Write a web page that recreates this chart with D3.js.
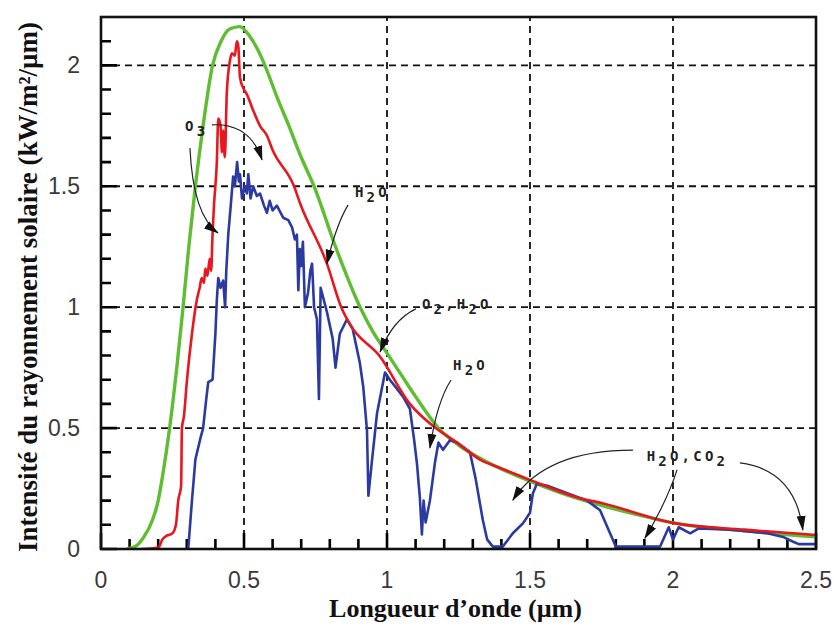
<!DOCTYPE html>
<html>
<head>
<meta charset="utf-8">
<script src="https://cdn.jsdelivr.net/npm/d3@7"></script>
<style>
  html, body { margin: 0; padding: 0; background: #fff; }
  svg { display: block; }
</style>
</head>
<body>
<svg id="chart" width="836" height="628"></svg>
<script>
// ---------------- DATA ----------------
const xTicks = [0, 0.5, 1, 1.5, 2, 2.5];
const yTicks = [0, 0.5, 1, 1.5, 2];
const xTickLabels = ["0", "0.5", "1", "1.5", "2", "2.5"];
const yTickLabels = ["0", "0.5", "1", "1.5", "2"];
const xTitle = "Longueur d\u2019onde (\u00b5m)";
const yTitle = "Intensit\u00e9 du rayonnement solaire (kW/m\u00b2/\u00b5m)";

// green : black-body curve  [wavelength µm, kW/m²/µm]
const greenSeries = [
  [0.09,0],[0.12,0.01],[0.15,0.05],[0.18,0.12],[0.2,0.2],[0.215,0.3],[0.24,0.5],
  [0.265,0.75],[0.287,1.0],[0.307,1.25],[0.33,1.5],[0.357,1.75],[0.39,2.0],
  [0.42,2.1],[0.45,2.15],[0.485,2.16],[0.52,2.12],[0.55,2.06],[0.573,2.0],
  [0.615,1.87],[0.657,1.75],[0.7,1.62],[0.745,1.5],[0.82,1.25],[0.906,1.0],
  [0.95,0.9],[1.0,0.81],[1.05,0.72],[1.1,0.63],[1.18,0.5],[1.25,0.43],
  [1.35,0.36],[1.5,0.28],[1.6,0.235],[1.75,0.18],[1.9,0.135],[2.0,0.108],
  [2.25,0.075],[2.5,0.05]
];

// red : extraterrestrial spectrum
const redSeries = [
  [0.14,0],[0.2,0.005],[0.215,0.04],[0.23,0.055],[0.25,0.065],[0.262,0.1],
  [0.27,0.2],[0.28,0.26],[0.283,0.5],[0.29,0.55],[0.3,0.69],[0.318,0.89],
  [0.335,1.03],[0.345,1.08],[0.352,1.12],[0.36,1.1],[0.365,1.16],[0.372,1.13],
  [0.38,1.2],[0.385,1.15],[0.39,1.3],[0.395,1.42],[0.405,1.6],[0.41,1.78],
  [0.418,1.75],[0.423,1.64],[0.427,1.73],[0.433,1.62],[0.44,1.89],[0.451,2.02],
  [0.458,2.05],[0.468,2.04],[0.475,2.1],[0.48,2.08],[0.486,1.95],[0.5,1.9],
  [0.51,1.88],[0.53,1.82],[0.556,1.75],[0.58,1.71],[0.6,1.65],[0.675,1.5],
  [0.696,1.43],[0.79,1.18],[0.84,1.0],[0.87,0.93],[0.976,0.795],[1.08,0.6],
  [1.17,0.5],[1.245,0.44],[1.325,0.37],[1.385,0.34],[1.5,0.286],[1.675,0.21],
  [1.75,0.19],[2.0,0.108],[2.25,0.08],[2.5,0.058]
];

// blue : ground-level spectrum
const blueSeries = [
  [0.305,0],[0.318,0.2],[0.33,0.37],[0.346,0.45],[0.357,0.5],[0.368,0.62],
  [0.375,0.69],[0.39,0.7],[0.4,0.89],[0.405,1.03],[0.41,1.12],[0.418,1.08],
  [0.427,1.11],[0.434,1.0],[0.438,1.15],[0.445,1.3],[0.45,1.37],[0.455,1.44],
  [0.462,1.54],[0.468,1.5],[0.476,1.6],[0.482,1.52],[0.486,1.55],[0.493,1.45],
  [0.503,1.5],[0.51,1.47],[0.515,1.55],[0.523,1.45],[0.532,1.5],[0.545,1.46],
  [0.556,1.47],[0.57,1.42],[0.58,1.39],[0.59,1.44],[0.6,1.4],[0.615,1.42],
  [0.637,1.37],[0.655,1.36],[0.668,1.33],[0.678,1.28],[0.685,1.3],[0.69,1.07],
  [0.695,1.24],[0.7,1.17],[0.706,1.27],[0.713,1.0],[0.724,1.06],[0.732,1.15],
  [0.738,1.18],[0.745,1.0],[0.755,0.95],[0.762,0.62],[0.768,1.08],[0.79,0.98],
  [0.81,0.87],[0.82,0.75],[0.835,0.89],[0.86,0.95],[0.88,0.91],[0.905,0.77],
  [0.917,0.67],[0.93,0.49],[0.935,0.22],[0.947,0.36],[0.965,0.56],[0.993,0.73],
  [1.01,0.7],[1.056,0.63],[1.08,0.58],[1.095,0.45],[1.105,0.35],[1.115,0.21],
  [1.122,0.06],[1.128,0.2],[1.135,0.11],[1.15,0.2],[1.168,0.36],[1.18,0.44],
  [1.196,0.41],[1.22,0.45],[1.245,0.44],[1.29,0.4],[1.31,0.29],[1.335,0.12],
  [1.35,0.04],[1.37,0.01],[1.405,0.01],[1.44,0.065],[1.476,0.107],[1.5,0.15],
  [1.51,0.23],[1.524,0.27],[1.565,0.26],[1.7,0.2],[1.745,0.16],[1.8,0.01],
  [1.955,0.01],[1.985,0.09],[2.0,0.04],[2.02,0.09],[2.06,0.065],[2.09,0.085],
  [2.2,0.08],[2.33,0.065],[2.385,0.05],[2.42,0.03],[2.44,0.02],[2.5,0.02]
];

// annotation labels: [wavelength, intensity] anchor + text parts ([text, isSubscript])
const annotationLabels = [
  { at: [0.294, 1.73], parts: [["O",0],["3",1]] },
  { at: [0.888, 1.455], parts: [["H",0],["2",1],["O",0]] },
  { at: [1.122, 0.993], parts: [["O",0],["2",1],[",",0],["H",0],["2",1],["O",0]] },
  { at: [1.231, 0.74], parts: [["H",0],["2",1],["O",0]] },
  { at: [1.908, 0.364], parts: [["H",0],["2",1],["O",0],[",",0],["C",0],["O",0],["2",1]] }
];
// arrows: start, control, tip (data coordinates)
const annotationArrows = [
  { from: [0.311, 1.658], ctrl: [0.322, 1.38], to: [0.409, 1.307] },
  { from: [0.388, 1.754], ctrl: [0.521, 1.762], to: [0.563, 1.609] },
  { from: [0.864, 1.423], ctrl: [0.822, 1.34], to: [0.79, 1.18] },
  { from: [1.101, 0.993], ctrl: [1.02, 0.948], to: [0.976, 0.815] },
  { from: [1.224, 0.699], ctrl: [1.175, 0.61], to: [1.15, 0.418] },
  { from: [1.86, 0.409], ctrl: [1.552, 0.409], to: [1.44, 0.202] },
  { from: [2.014, 0.327], ctrl: [1.98, 0.2], to: [1.902, 0.045] },
  { from: [2.234, 0.356], ctrl: [2.427, 0.327], to: [2.454, 0.079] }
];

// ---------------- DRAWING ----------------
const svg = d3.select("#chart");
const x = d3.scaleLinear().domain([0, 2.5]).range([101, 816]);
const y = d3.scaleLinear().domain([0, 2.2]).range([549, 17]);

const defs = svg.append("defs");
defs.append("clipPath").attr("id", "plotclip")
  .append("rect").attr("x", 101).attr("y", 17).attr("width", 715).attr("height", 532);
defs.append("marker")
  .attr("id", "arrowhead").attr("viewBox", "0 -5 15 10")
  .attr("refX", 14).attr("refY", 0)
  .attr("markerWidth", 15).attr("markerHeight", 10)
  .attr("markerUnits", "userSpaceOnUse")
  .attr("orient", "auto")
  .append("path").attr("d", "M0,-4.5L15,0L0,4.5Z").attr("fill", "#111");

// grid
const gridG = svg.append("g");
gridG.selectAll("line.gx").data(xTicks.filter(v => v > 0 && v < 2.5)).join("line")
  .attr("class", "gx")
  .attr("x1", d => x(d)).attr("x2", d => x(d))
  .attr("y1", y(0)).attr("y2", y(2.2))
  .attr("stroke", "#111").attr("stroke-width", 1.8).attr("stroke-dasharray", "7,5");
gridG.selectAll("line.gy").data(yTicks.filter(v => v > 0)).join("line")
  .attr("class", "gy")
  .attr("y1", d => y(d)).attr("y2", d => y(d))
  .attr("x1", x(0)).attr("x2", x(2.5))
  .attr("stroke", "#111").attr("stroke-width", 1.8).attr("stroke-dasharray", "7,5");

// ticks (inside), minor every 0.1, major at labelled values — drawn as one path
const minorX = d3.range(1, 25).map(i => i / 10);
const minorY = d3.range(1, 22).map(i => i / 10);
const tp = d3.path();
minorX.forEach(v => { tp.moveTo(x(v), y(0)); tp.lineTo(x(v), y(0) - 10); });
xTicks.forEach(v => { tp.moveTo(x(v), y(0)); tp.lineTo(x(v), y(0) - 16); });
minorY.forEach(v => { tp.moveTo(x(0), y(v)); tp.lineTo(x(0) + 10, y(v)); });
yTicks.forEach(v => { tp.moveTo(x(0), y(v)); tp.lineTo(x(0) + 16, y(v)); });
svg.append("path").attr("d", tp.toString())
  .attr("fill", "none").attr("stroke", "#000").attr("stroke-width", 2.6);

// tick labels
const tickFont = "'Liberation Sans', Arial, sans-serif";
svg.append("g").selectAll("text").data(xTicks).join("text")
  .attr("x", d => x(d)).attr("y", y(0) + 39)
  .attr("text-anchor", "middle")
  .attr("font-family", tickFont).attr("font-size", 23).attr("fill", "#3a3a3a")
  .text((d, i) => xTickLabels[i]);
svg.append("g").selectAll("text").data(yTicks).join("text")
  .attr("x", x(0) - 21).attr("y", d => y(d) + 8)
  .attr("text-anchor", "end")
  .attr("font-family", tickFont).attr("font-size", 23).attr("fill", "#3a3a3a")
  .text((d, i) => yTickLabels[i]);

// curves
const smoothLine = d3.line().x(d => x(d[0])).y(d => y(d[1])).curve(d3.curveMonotoneX);
const line = d3.line().x(d => x(d[0])).y(d => y(d[1]));
const curves = svg.append("g").attr("clip-path", "url(#plotclip)");
curves.append("path").datum(greenSeries).attr("d", smoothLine)
  .attr("fill", "none").attr("stroke", "#5fbd32").attr("stroke-width", 3.4)
  .attr("stroke-linejoin", "round");
curves.append("path").datum(blueSeries).attr("d", line)
  .attr("fill", "none").attr("stroke", "#2b3aa0").attr("stroke-width", 2.6)
  .attr("stroke-linejoin", "round");
curves.append("path").datum(redSeries).attr("d", smoothLine)
  .attr("fill", "none").attr("stroke", "#e8161e").attr("stroke-width", 2.6)
  .attr("stroke-linejoin", "round");

// frame
svg.append("rect").attr("x", x(0)).attr("y", y(2.2))
  .attr("width", x(2.5) - x(0)).attr("height", y(0) - y(2.2))
  .attr("fill", "none").attr("stroke", "#111").attr("stroke-width", 2.6);

// annotations
const annG = svg.append("g");
annG.selectAll("path").data(annotationArrows).join("path")
  .attr("d", d => `M${x(d.from[0])},${y(d.from[1])} Q${x(d.ctrl[0])},${y(d.ctrl[1])} ${x(d.to[0])},${y(d.to[1])}`)
  .attr("fill", "none").attr("stroke", "#222").attr("stroke-width", 1.2)
  .attr("marker-end", "url(#arrowhead)");

annotationLabels.forEach(lab => {
  const t = annG.append("text")
    .attr("x", x(lab.at[0])).attr("y", y(lab.at[1]))
    .attr("font-family", "'DejaVu Sans Mono', monospace")
    .attr("font-size", 14).attr("font-weight", "bold")
    .attr("letter-spacing", 3.2).attr("fill", "#222");
  let prevSub = 0;
  lab.parts.forEach(p => {
    const ts = t.append("tspan").text(p[0]);
    const dy = (p[1] ? 5 : 0) - (prevSub ? 5 : 0);
    if (dy) ts.attr("dy", dy);
    prevSub = p[1];
  });
});

// titles
svg.append("text")
  .attr("x", (x(0) + x(2.5)) / 2 - 3).attr("y", 617)
  .attr("text-anchor", "middle")
  .attr("font-family", "'Liberation Serif', 'Times New Roman', serif")
  .attr("font-weight", "bold").attr("font-size", 26).attr("fill", "#111")
  .text(xTitle);
svg.append("text")
  .attr("transform", "translate(37,287) rotate(-90)")
  .attr("text-anchor", "middle")
  .attr("font-family", "'Liberation Serif', 'Times New Roman', serif")
  .attr("font-weight", "bold").attr("font-size", 27).attr("fill", "#111")
  .text(yTitle);
</script>
</body>
</html>
